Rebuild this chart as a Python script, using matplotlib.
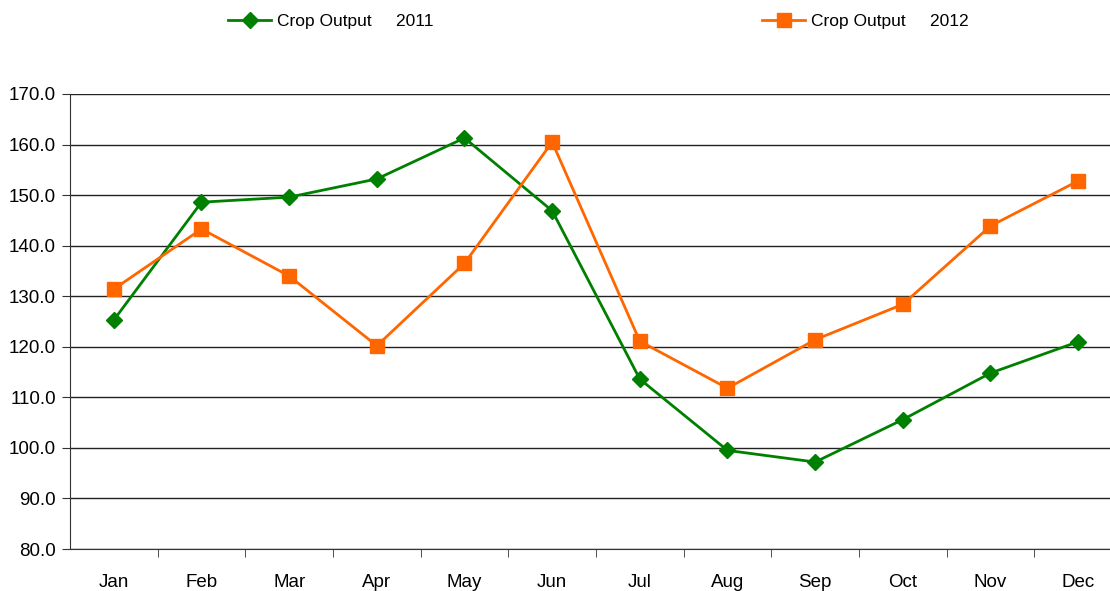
import numpy as np
import matplotlib
matplotlib.use("Agg")
import matplotlib.pyplot as plt

months = ["Jan", "Feb", "Mar", "Apr", "May", "Jun",
          "Jul", "Aug", "Sep", "Oct", "Nov", "Dec"]
output_2011 = [125.3, 148.6, 149.6, 153.2, 161.3, 146.9,
               113.6, 99.5, 97.2, 105.6, 114.8, 121.0]
output_2012 = [131.4, 143.3, 134.0, 120.2, 136.5, 160.5,
               121.1, 111.8, 121.4, 128.4, 143.9, 152.8]
yticks = np.arange(80, 171, 10)

plt.rcParams['font.family'] = ['Liberation Sans', 'DejaVu Sans']

W, H = 1110, 591
fig = plt.figure(figsize=(W / 100, H / 100), dpi=100)
# plot area runs a little past the right edge of the picture
ax = fig.add_axes([70 / W, 1 - 549 / H, (1122 - 70) / W, (549 - 94) / H])

x = np.arange(len(months))
l1, = ax.plot(x, output_2011, color="#008000", lw=2, marker="D", ms=8,
              label="Crop Output     2011", zorder=3)
l2, = ax.plot(x, output_2012, color="#FF6600", lw=2, marker="s", ms=10,
              label="Crop Output     2012", zorder=4)

ax.set_xlim(-0.5, len(months) - 0.5)
ax.set_ylim(80, 170)
ax.set_yticks(yticks)
ax.set_yticklabels([f"{v:.1f}" for v in yticks], fontsize=13.5)
ax.yaxis.grid(True, color="#222222", lw=1)
ax.set_axisbelow(True)

# category labels centred, tick marks between categories
ax.set_xticks(x)
ax.set_xticklabels(months, fontsize=13.5)
ax.tick_params(axis="x", length=0, pad=18)
ax.set_xticks(np.arange(0.5, len(months) - 0.5, 1), minor=True)
ax.tick_params(axis="x", which="minor", length=6, direction="out", color="#333333")
ax.tick_params(axis="y", length=6, direction="out", color="#333333", pad=4)

for side in ["top", "right"]:
    ax.spines[side].set_visible(False)
ax.spines["left"].set_color("#333333")
ax.spines["bottom"].set_color("#333333")

for handle, xpos in [(l1, 228), (l2, 762)]:
    fig.legend(handles=[handle], loc="center left",
               bbox_to_anchor=(xpos / W, 1 - 21 / H), frameon=False,
               borderpad=0, borderaxespad=0, handlelength=2.5,
               handletextpad=0.3, fontsize=12.5)

fig.savefig("out.png", dpi=100)
